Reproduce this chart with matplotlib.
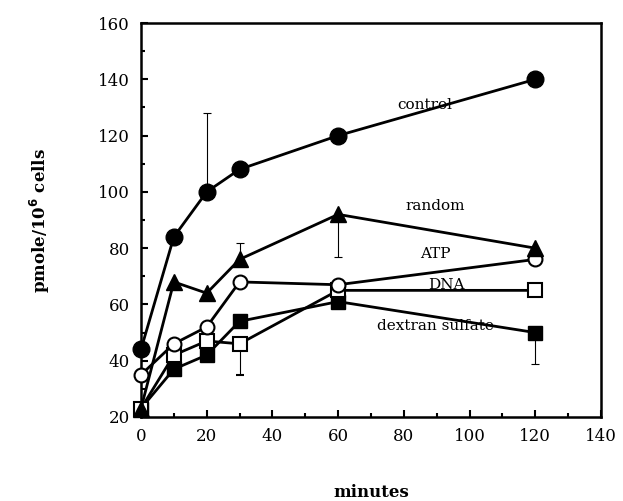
import numpy as np
import matplotlib.pyplot as plt

plt.rcParams['font.family'] = ['DejaVu Serif']

minutes = [0, 10, 20, 30, 60, 120]

control = [44, 84, 100, 108, 120, 140]
random_dna = [23, 68, 64, 76, 92, 80]
atp = [35, 46, 52, 68, 67, 76]
dna = [23, 42, 47, 46, 65, 65]
dextran = [23, 37, 42, 54, 61, 50]

# one-sided error bars (lower, upper)
control_err = [[0, 0, 0, 0, 0, 0], [0, 0, 28, 0, 0, 0]]
random_err = [[0, 0, 0, 0, 15, 0], [0, 0, 0, 6, 0, 0]]
dna_err = [[0, 0, 0, 11, 0, 0], [0, 0, 0, 0, 0, 0]]
dextran_err = [[0, 0, 0, 0, 0, 11], [0, 0, 0, 0, 0, 0]]

labels = ["control", "random", "ATP", "DNA", "dextran sulfate"]
label_x = [86.5, 89.5, 89.5, 93, 89.5]
label_y = [131, 95, 78, 67, 52.5]

fig = plt.figure(figsize=(6.23, 5.01), dpi=100)
ax = fig.add_axes([0.2263, 0.1677, 0.7384, 0.7863])

eb = dict(ecolor='black', elinewidth=0.8, capsize=3, capthick=0.8)

ax.errorbar(minutes, dextran, yerr=dextran_err, color='black', lw=2,
            marker='s', ms=10, mfc='black', mec='black', zorder=3, clip_on=False, **eb)
ax.errorbar(minutes, dna, yerr=dna_err, color='black', lw=2,
            marker='s', ms=10, mfc='white', mec='black', mew=1.5, zorder=4, clip_on=False, **eb)
ax.errorbar(minutes, atp, color='black', lw=2,
            marker='o', ms=10, mfc='white', mec='black', mew=1.5, zorder=5, clip_on=False)
ax.errorbar(minutes, random_dna, yerr=random_err, color='black', lw=2,
            marker='^', ms=12, mfc='black', mec='black', zorder=6, clip_on=False, **eb)
ax.errorbar(minutes, control, yerr=control_err, color='black', lw=2,
            marker='o', ms=12, mfc='black', mec='black', zorder=7, clip_on=False, **eb)

for t, x, y in zip(labels, label_x, label_y):
    ax.text(x, y, t, fontsize=11, ha='center', va='center', zorder=8)

ax.set_xlim(0, 140)
ax.set_ylim(20, 160)
ax.set_xticks(np.arange(0, 141, 20))
ax.set_xticks(np.arange(0, 141, 10), minor=True)
ax.set_yticks(np.arange(20, 161, 20))
ax.set_yticks(np.arange(20, 161, 10), minor=True)
ax.tick_params(which='both', direction='in', width=1.5, labelsize=12)
ax.tick_params(which='major', length=5, pad=8)
ax.tick_params(which='minor', length=3)
for s in ax.spines.values():
    s.set_linewidth(1.8)

ax.set_xlabel("minutes", fontsize=12, fontweight='bold', labelpad=28)
ax.set_ylabel(r"pmole/10$^{\mathbf{6}}$ cells", fontsize=12, fontweight='bold', labelpad=33)

fig.savefig("out.png", dpi=100)
